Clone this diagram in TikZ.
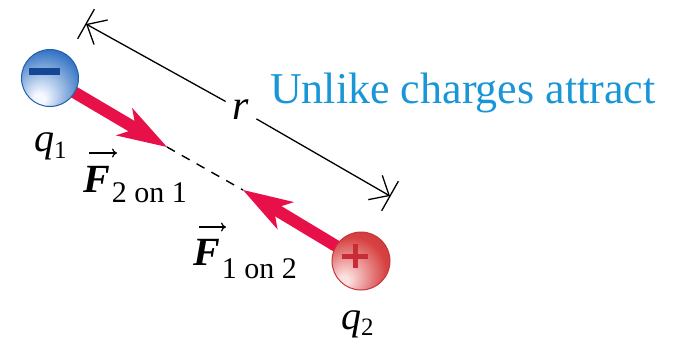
\documentclass[tikz,border=0pt]{standalone}
\usepackage{fontspec}
\setmainfont{LiberationSerif}[Extension=.ttf, UprightFont=*-Regular, BoldFont=*-Bold, ItalicFont=*-Italic, BoldItalicFont=*-BoldItalic]
\usetikzlibrary{arrows.meta,calc}
\definecolor{textblue}{RGB}{25,150,215}
\definecolor{forcered}{RGB}{232,16,72}
\definecolor{ballblue}{RGB}{50,115,195}
\definecolor{rimblue}{RGB}{35,95,170}
\definecolor{signblue}{RGB}{20,70,150}
\definecolor{ballred}{RGB}{215,65,65}
\definecolor{rimred}{RGB}{195,55,60}
\definecolor{signred}{RGB}{200,45,55}
\definecolor{ballbluedark}{RGB}{40,95,170}
\definecolor{ballreddark}{RGB}{185,45,50}
\definecolor{ballbluelight}{RGB}{245,248,255}
\definecolor{ballredlight}{RGB}{252,225,225}
\pgfdeclareradialshading{blueball}{\pgfpoint{-10bp}{-20bp}}{color(0bp)=(ballbluelight); color(5bp)=(ballbluelight); color(34bp)=(ballblue); color(62bp)=(ballbluedark)}
\pgfdeclareradialshading{redball}{\pgfpoint{-16bp}{-18bp}}{color(0bp)=(ballredlight); color(4bp)=(ballredlight); color(30bp)=(ballred); color(62bp)=(ballreddark)}
\tikzset{
  dimtip/.tip={Straight Barb[length=16bp,width=28bp,line width=1.3bp]},
  force/.style={draw=forcered, line width=12bp, -{Stealth[length=50bp,width=32bp,inset=14bp,line width=0pt]}},
  dashline/.style={draw=black, line width=1.4bp, dash pattern=on 9bp off 8bp},
  dimline/.style={draw=black, line width=1.3bp},
  vecarrow/.style={draw=black, line width=1.2bp, -{To[length=5bp,width=9bp]}},
  chargeblue/.style={circle, minimum size=57bp, inner sep=0pt, draw=rimblue, line width=1bp, shading=blueball},
  chargered/.style={circle, minimum size=58bp, inner sep=0pt, draw=rimred, line width=1bp, shading=redball},
  lbl/.style={anchor=base west, inner sep=0pt, font=\fontsize{40bp}{46bp}\selectfont},
  title/.style={anchor=base west, inner sep=0pt, text=textblue, font=\fontsize{44bp}{50bp}\selectfont},
  rlabel/.style={inner xsep=7bp, inner ysep=0pt, font=\fontsize{42bp}{46bp}\selectfont\itshape}
}
\begin{document}
\begin{tikzpicture}[x=1bp,y=-1bp]
\useasboundingbox (0,0) rectangle (679,346);
% centres and tips
\coordinate (c1) at (50,78);
\coordinate (c2) at (361,261);
\coordinate (t1) at (167,147);
\coordinate (t2) at (243,190);
% dashed line between tips
\draw[dashline] (t1) -- (t2);
% force arrows
\draw[force] (c1) -- (t1);
\draw[force] (c2) -- (t2);
% charges
\node[chargeblue] (q1) at (c1) {};
\node[chargered] (q2) at (c2) {};
\draw[signblue, line width=7bp] (29,71.5) -- (60,71.5);
\draw[signred, line width=5bp] (342,256) -- (368,256) (355,244) -- (355,268);
% labels
\node[title] (title) at (270,103) {Unlike charges attract};
\node[lbl] (q1lab) at (34,151) {\textit{q}\raisebox{-7bp}{\fontsize{25bp}{25bp}\selectfont 1}};
\node[lbl] (q2lab) at (341,329) {\textit{q}\raisebox{-6bp}{\fontsize{25bp}{25bp}\selectfont 2}};
\node[lbl] (F21) at (83,192) {\textbf{\textit{F}}\hspace{2bp}\raisebox{-10bp}{\fontsize{30bp}{30bp}\selectfont 2 on 1}};
\node[lbl] (F12) at (193,265) {\textbf{\textit{F}}\hspace{2bp}\raisebox{-13bp}{\fontsize{30bp}{30bp}\selectfont 1 on 2}};
\coordinate (v1a) at (89,153);
\coordinate (v1b) at (117,153);
\coordinate (v2a) at (199,227);
\coordinate (v2b) at (226,227);
\draw[vecarrow] (v1a) -- (v1b);
\draw[vecarrow] (v2a) -- (v2b);
% dimension r
\coordinate (L) at (86,24);
\coordinate (R) at (390,196);
\node[rlabel] (r) at (241,110) {r};
\draw[dimline, {dimtip}-] (L) -- (r);
\draw[dimline, -{dimtip}] (r) -- (R);
\draw[dimline] ($(L)!17bp!90:(R)$) -- ($(L)!17bp!-90:(R)$);
\draw[dimline] ($(R)!17bp!90:(L)$) -- ($(R)!17bp!-90:(L)$);
\end{tikzpicture}
\end{document}
